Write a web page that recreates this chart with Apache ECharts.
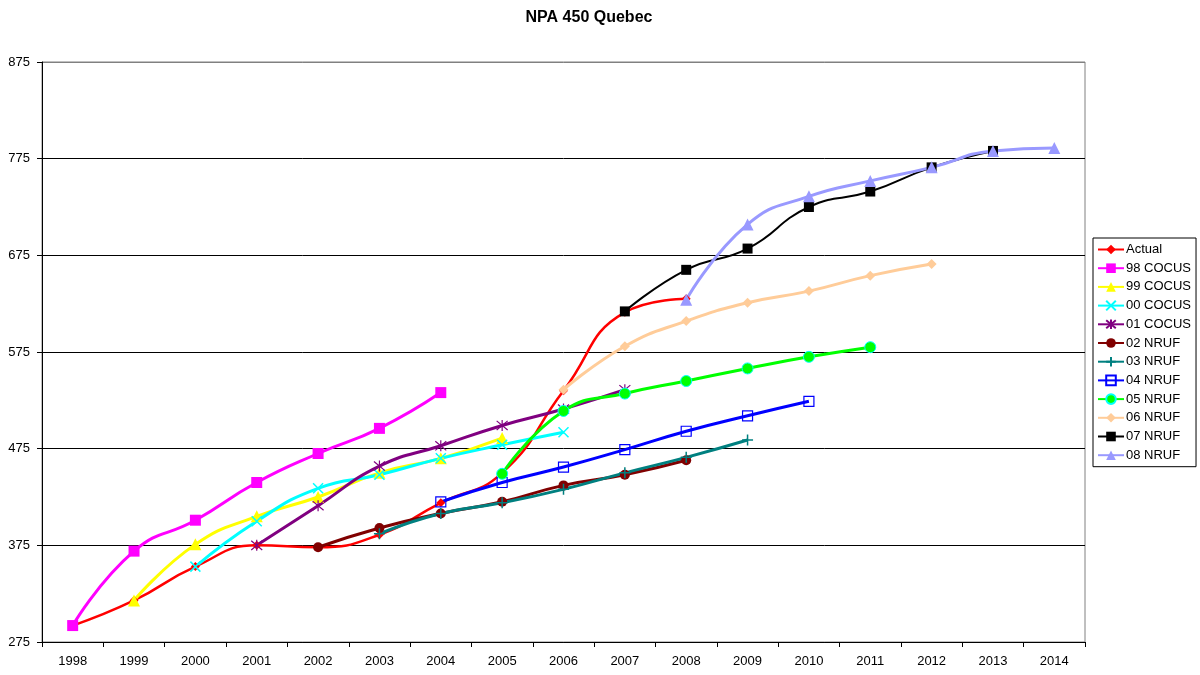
<!DOCTYPE html>
<html><head><meta charset="utf-8">
<script src="https://cdn.jsdelivr.net/npm/echarts@6/dist/echarts.min.js"></script>
<style>html,body{margin:0;padding:0;background:#fff}#c{width:1200px;height:675px}</style>
</head><body><div id="c"></div>
<script>
const years = ['1998','1999','2000','2001','2002','2003','2004','2005','2006','2007','2008','2009','2010','2011','2012','2013','2014'];
const yMin = 275, yMax = 875, yStep = 100;

// values, each starting at its first forecast year
const actual  = [292, 318, 353, 375, 373, 386, 419, 450, 535, 616, 630];   // from 1998
const cocus98 = [292, 369, 401, 440, 470, 496, 533];                      // from 1998
const cocus99 = [318, 376, 405, 425, 450, 465, 486];                      // from 1999
const cocus00 = [353, 400, 434, 448, 465, 479, 492];                      // from 2000
const cocus01 = [375, 416, 457, 478, 499, 516, 536];                      // from 2001
const nruf02  = [373, 393, 408, 420, 437, 448, 463];                      // from 2002
const nruf03  = [387, 408, 419, 433, 450, 466, 484];                      // from 2003
const nruf04  = [420, 440, 456, 474, 493, 509, 524];                      // from 2004
const nruf05  = [449, 514, 532, 545, 558, 570, 580];                      // from 2005
const nruf06  = [536, 581, 607, 626, 638, 654, 666];                      // from 2006
const nruf07  = [617, 660, 682, 725, 741, 766, 783];                      // from 2007
const nruf08  = [629, 707, 736, 752, 766, 783, 786];                      // from 2008

function pad(start, arr){
  const out = years.map(() => null);
  const s = years.indexOf(start);
  arr.forEach((v,i) => { out[s+i] = v; });
  return out;
}

const XPATH = 'path://M0,0L10,10M10,0L0,10';
const ASTER = 'path://M0,0L10,10M10,0L0,10M5,-1L5,11';
const PLUS  = 'path://M5,0L5,10M0,5L10,5';

function mk(name, start, vals, color, symbol, size, width, extra){
  const s = {
    name, type:'line', data: pad(start, vals), smooth: true,
    symbol, symbolSize: size, showSymbol: true,
    lineStyle: {color, width},
    itemStyle: {color, borderColor: color, borderWidth: 0},
    emphasis: {disabled: true}
  };
  if (extra) Object.assign(s.itemStyle, extra);
  return s;
}

const series = [
  mk('Actual','1998',actual,'#FF0000','diamond',9,2.5),
  mk('98 COCUS','1998',cocus98,'#FF00FF','rect',11,3),
  mk('99 COCUS','1999',cocus99,'#FFFF00','triangle',12,3),
  mk('00 COCUS','2000',cocus00,'#00FFFF',XPATH,10,3,{borderWidth:1.5}),
  mk('01 COCUS','2001',cocus01,'#800080',ASTER,11,3,{borderWidth:1.2}),
  mk('02 NRUF','2002',nruf02,'#800000','circle',10,3),
  mk('03 NRUF','2003',nruf03,'#008080',PLUS,11,3,{borderWidth:1.5}),
  mk('04 NRUF','2004',nruf04,'#0000FF','rect',10,3,{color:'rgba(255,255,255,0)',borderWidth:1.2}),
  mk('05 NRUF','2005',nruf05,'#00FF00','circle',11,3,{borderColor:'#00FFFF',borderWidth:1}),
  mk('06 NRUF','2006',nruf06,'#FFCC99','diamond',10,3),
  mk('07 NRUF','2007',nruf07,'#000000','rect',10,2),
  mk('08 NRUF','2008',nruf08,'#9999FF','triangle',12,3)
];

const chart = echarts.init(document.getElementById('c'), null, {renderer:'canvas'});
chart.setOption({
  animation: false,
  backgroundColor: '#ffffff',
  title: {
    text: 'NPA 450 Quebec', left: 584, top: 5, textAlign: 'center',
    textStyle: {fontFamily: 'Liberation Sans, Arial', fontWeight: 'bold', fontSize: 16, color: '#000'}
  },
  grid: {left: 42, right: 115, top: 62, bottom: 33, show: true, borderColor: '#808080', borderWidth: 1, backgroundColor: '#fff'},
  legend: {
    orient: 'vertical', left: 1093, top: 238,
    backgroundColor: '#fff', borderColor: '#000', borderWidth: 1,
    padding: [5, 5, 5, 4], itemWidth: 26, itemHeight: 12, itemGap: 5.7,
    textStyle: {fontFamily: 'Liberation Sans, Arial', fontSize: 13, color: '#000', lineHeight: 13, padding: [0,0,0,-3]},
    selectedMode: false
  },
  xAxis: {
    type: 'category', data: years, boundaryGap: true,
    axisLine: {lineStyle: {color: '#000', width: 1}},
    axisTick: {show: true, interval: 0, alignWithLabel: false, length: 5, lineStyle: {color: '#000'}},
    axisLabel: {interval: 0, margin: 13, fontFamily: 'Liberation Sans, Arial', fontSize: 13, color: '#000'},
    splitLine: {show: false}
  },
  yAxis: {
    type: 'value', min: yMin, max: yMax, interval: yStep,
    axisLine: {show: true, lineStyle: {color: '#000', width: 1}},
    axisTick: {show: true, length: 5, lineStyle: {color: '#000'}},
    axisLabel: {margin: 12, fontFamily: 'Liberation Sans, Arial', fontSize: 13, color: '#000'},
    splitLine: {show: true, lineStyle: {color: ['#000','#000','#000','#000','#000','#000','#808080'], width: 1}}
  },
  series
});
</script>
</body></html>
